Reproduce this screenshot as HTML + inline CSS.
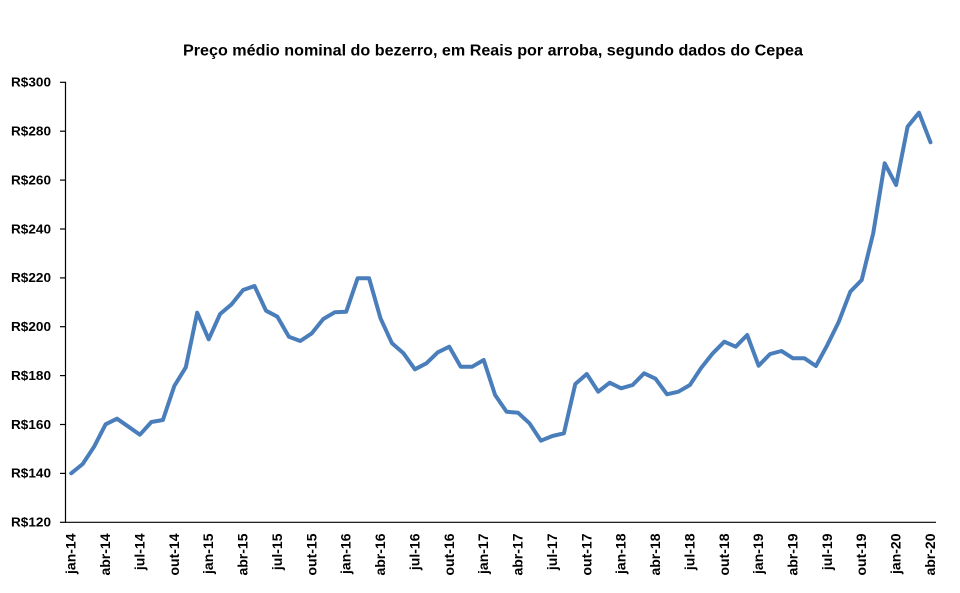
<!DOCTYPE html>
<html>
<head>
<meta charset="utf-8">
<style>
html,body{margin:0;padding:0;background:#fff;}
svg{display:block;}
text{font-family:"Liberation Sans",Arial,sans-serif;font-weight:bold;fill:#000;}
</style>
</head>
<body>
<svg width="960" height="593" viewBox="0 0 960 593" xmlns="http://www.w3.org/2000/svg">
<rect width="960" height="593" fill="#fff"/>
<text x="493" y="55.5" font-size="15.5" text-anchor="middle" textLength="620" lengthAdjust="spacingAndGlyphs">Preço médio nominal do bezerro, em Reais por arroba, segundo dados do Cepea</text>

<!-- axes -->
<g stroke="#000" stroke-width="1.2" fill="none">
<line x1="65.5" y1="82" x2="65.5" y2="522.3"/>
<line x1="65" y1="522.3" x2="936" y2="522.3"/>
<line x1="60" y1="82.3" x2="66" y2="82.3"/>
<line x1="60" y1="131.2" x2="66" y2="131.2"/>
<line x1="60" y1="180.1" x2="66" y2="180.1"/>
<line x1="60" y1="229.0" x2="66" y2="229.0"/>
<line x1="60" y1="277.9" x2="66" y2="277.9"/>
<line x1="60" y1="326.7" x2="66" y2="326.7"/>
<line x1="60" y1="375.6" x2="66" y2="375.6"/>
<line x1="60" y1="424.5" x2="66" y2="424.5"/>
<line x1="60" y1="473.4" x2="66" y2="473.4"/>
<line x1="60" y1="522.3" x2="66" y2="522.3"/>
</g>

<g font-size="12.5" text-anchor="end">
<text x="51" y="86.6" textLength="40" lengthAdjust="spacingAndGlyphs">R$300</text>
<text x="51" y="135.5" textLength="40" lengthAdjust="spacingAndGlyphs">R$280</text>
<text x="51" y="184.4" textLength="40" lengthAdjust="spacingAndGlyphs">R$260</text>
<text x="51" y="233.3" textLength="40" lengthAdjust="spacingAndGlyphs">R$240</text>
<text x="51" y="282.2" textLength="40" lengthAdjust="spacingAndGlyphs">R$220</text>
<text x="51" y="331.0" textLength="40" lengthAdjust="spacingAndGlyphs">R$200</text>
<text x="51" y="379.9" textLength="40" lengthAdjust="spacingAndGlyphs">R$180</text>
<text x="51" y="428.8" textLength="40" lengthAdjust="spacingAndGlyphs">R$160</text>
<text x="51" y="477.7" textLength="40" lengthAdjust="spacingAndGlyphs">R$140</text>
<text x="51" y="526.6" textLength="40" lengthAdjust="spacingAndGlyphs">R$120</text>
</g>

<g font-size="14" text-anchor="end">
<text transform="translate(75.7,533.5) rotate(-90)">jan-14</text>
<text transform="translate(110.1,533.5) rotate(-90)">abr-14</text>
<text transform="translate(144.4,533.5) rotate(-90)">jul-14</text>
<text transform="translate(178.8,533.5) rotate(-90)">out-14</text>
<text transform="translate(213.2,533.5) rotate(-90)">jan-15</text>
<text transform="translate(247.6,533.5) rotate(-90)">abr-15</text>
<text transform="translate(281.9,533.5) rotate(-90)">jul-15</text>
<text transform="translate(316.3,533.5) rotate(-90)">out-15</text>
<text transform="translate(350.7,533.5) rotate(-90)">jan-16</text>
<text transform="translate(385.0,533.5) rotate(-90)">abr-16</text>
<text transform="translate(419.4,533.5) rotate(-90)">jul-16</text>
<text transform="translate(453.8,533.5) rotate(-90)">out-16</text>
<text transform="translate(488.2,533.5) rotate(-90)">jan-17</text>
<text transform="translate(522.5,533.5) rotate(-90)">abr-17</text>
<text transform="translate(556.9,533.5) rotate(-90)">jul-17</text>
<text transform="translate(591.3,533.5) rotate(-90)">out-17</text>
<text transform="translate(625.6,533.5) rotate(-90)">jan-18</text>
<text transform="translate(660.0,533.5) rotate(-90)">abr-18</text>
<text transform="translate(694.4,533.5) rotate(-90)">jul-18</text>
<text transform="translate(728.8,533.5) rotate(-90)">out-18</text>
<text transform="translate(763.1,533.5) rotate(-90)">jan-19</text>
<text transform="translate(797.5,533.5) rotate(-90)">abr-19</text>
<text transform="translate(831.9,533.5) rotate(-90)">jul-19</text>
<text transform="translate(866.2,533.5) rotate(-90)">out-19</text>
<text transform="translate(900.6,533.5) rotate(-90)">jan-20</text>
<text transform="translate(935.0,533.5) rotate(-90)">abr-20</text>
</g>

<polyline fill="none" stroke="#4A7EBB" stroke-width="4" stroke-linejoin="round" stroke-linecap="round" points="
71.2,473.3 82.7,464 94.1,446.7 105.6,424.3 117.0,418.7 128.5,426.7 139.9,434.7 151.4,422 162.9,420 174.3,386
185.8,367.3 197.2,312.7 208.7,339.3 220.1,314 231.6,304.3 243.1,290 254.5,286 266.0,310.7 277.4,316.7 288.9,336.7
300.3,341 311.8,333.3 323.3,319 334.7,312.3 346.2,311.7 357.6,278.3 369.1,278.3 380.5,318.3 392.0,343.3 403.5,353.3
414.9,369.3 426.4,363.3 437.8,352.3 449.3,346.7 460.7,366.7 472.2,366.7 483.7,360 495.1,395 506.6,411.7 518.0,412.7
529.5,423.3 540.9,440.7 552.4,436 563.9,433.3 575.3,384 586.8,374 598.2,391.7 609.7,382.7 621.1,388.3 632.6,385
644.1,373.3 655.5,378.7 667.0,394.3 678.4,391.7 689.9,385 701.3,367.7 712.8,353.3 724.3,341.7 735.7,346.7 747.2,335
758.6,365.7 770.1,354 781.5,351 793.0,358.3 804.5,358.3 815.9,366 827.4,344.9 838.8,321.7 850.3,291.7 861.7,280
873.2,233.3 884.7,163.3 896.1,185 907.6,126.7 919.0,112.7 930.5,142.3"/>
</svg>
</body>
</html>
